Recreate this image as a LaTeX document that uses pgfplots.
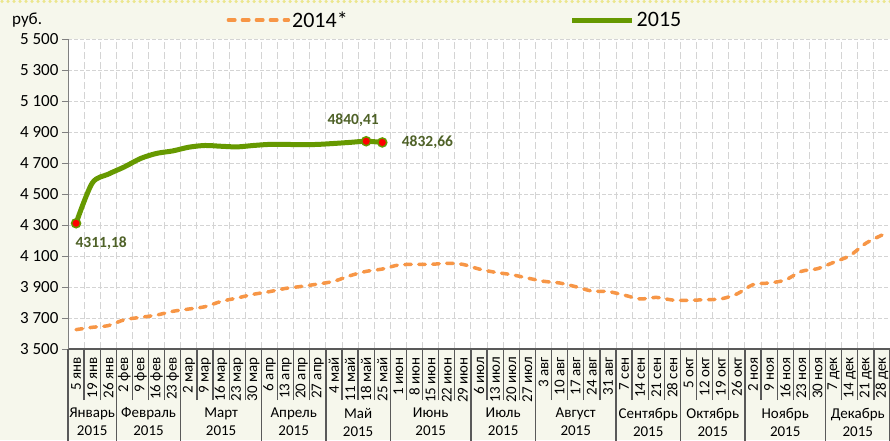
\documentclass[border=0pt]{standalone}
\usepackage{pgfplots}
\pgfplotsset{compat=1.18}
\usepackage{fontspec}
\setmainfont{Carlito}
\definecolor{bgcream}{RGB}{246,247,236}
\definecolor{gr15}{RGB}{102,153,0}
\definecolor{or14}{RGB}{247,150,70}
\definecolor{olivetxt}{RGB}{79,98,40}
\definecolor{gridc}{RGB}{212,212,212}
\definecolor{tickc}{RGB}{89,89,89}
\definecolor{dotc}{RGB}{236,230,140}

\pgfplotstableread{
x y
0 3625
1 3640
2 3651
3 3689
4 3704
5 3719
6 3743
7 3758
8 3773
9 3807
10 3829
11 3853
12 3870
13 3891
14 3904
15 3919
16 3937
17 3973
18 4001
19 4016
20 4042
21 4046
22 4046
23 4053
24 4046
25 4016
26 3995
27 3980
28 3958
29 3937
30 3926
31 3902
32 3874
33 3871
34 3848
35 3823
36 3833
37 3816
38 3814
39 3818
40 3823
41 3855
42 3915
43 3926
44 3945
45 4001
46 4018
47 4059
48 4102
49 4182
50 4235
}\dataA

\pgfplotstableread{
x y
0 4311.18
1 4570
2 4628
3 4675
4 4729
5 4762
6 4778
7 4802
8 4813
9 4808
10 4804
11 4813
12 4820
13 4820
14 4818
15 4820
16 4826
17 4833
18 4840.41
19 4832.66
}\dataB

\tikzset{monthlbl/.style={font=\fontsize{15}{18}\selectfont, align=center, inner sep=0pt, yshift=-73pt}}

\begin{document}
\begin{tikzpicture}
\useasboundingbox (0pt,0pt) rectangle (890pt,440pt);
\fill[bgcream] (0pt,0pt) rectangle (890pt,440pt);
\draw[dotc, line width=3.5pt, line cap=round, dash pattern=on 0pt off 6pt] (2pt,438.5pt) -- (890pt,438.5pt);
\node[anchor=west, font=\fontsize{17}{18}\selectfont, inner sep=0pt] at (12pt,420pt) {руб.};
\begin{axis}[
  at={(68pt,91pt)}, anchor=south west, scale only axis, width=822pt, height=310pt,
  xmin=-0.5, xmax=50.5, ymin=3500, ymax=5500,
  clip=false,
  axis x line*=bottom, axis y line*=left,
  x axis line style={-, draw=tickc, line width=2pt},
  y axis line style={-, draw=gray, line width=1pt},
  axis background/.style={fill=white},
  ytick={3500,3700,...,5500},
  yticklabels={3 500,3 700,3 900,4 100,4 300,4 500,4 700,4 900,5 100,5 300,5 500},
  yticklabel style={font=\fontsize{17}{18}\selectfont},
  xtick={0,...,50},
  xticklabels={5 янв,19 янв,26 янв,2 фев,9 фев,16 фев,23 фев,2 мар,9 мар,16 мар,23 мар,30 мар,6 апр,13 апр,20 апр,27 апр,4 май,11 май,18 май,25 май,1 июн,8 июн,15 июн,22 июн,29 июн,6 июл,13 июл,20 июл,27 июл,3 авг,10 авг,17 авг,24 авг,31 авг,7 сен,14 сен,21 сен,28 сен,5 окт,12 окт,19 окт,26 окт,2 ноя,9 ноя,16 ноя,23 ноя,30 ноя,7 дек,14 дек,21 дек,28 дек},
  xticklabel style={rotate=90, anchor=east, font=\fontsize{15}{16}\selectfont, inner sep=2pt},
  minor xtick={-0.5,0.5,...,50.5},
  ymajorgrids, xminorgrids,
  major grid style={gridc, dash pattern=on 4pt off 2pt, line width=1pt},
  minor grid style={gridc, dash pattern=on 7pt off 3pt, line width=1pt},
  tick align=outside,
  major tick length=6pt,
  minor tick length=51pt,
  major x tick style={draw=none},
  minor x tick style={draw=tickc, line width=1.3pt},
  ytick style={draw=gray, line width=1pt},
  extra x ticks={-0.5,2.5,6.5,11.5,15.5,19.5,24.5,28.5,33.5,37.5,41.5,46.5,50.5},
  extra x tick labels={},
  extra x tick style={grid=none, major tick length=95pt, major x tick style={draw=tickc, line width=1.3pt}},
  legend columns=2,
  legend style={at={(0.4708,1.0613)}, anchor=center, draw=none, fill=none,
    font=\fontsize{22}{24}\selectfont,
    /tikz/every even column/.append style={column sep=220pt}},
  legend image code/.code={\draw[#1] (0pt,0pt) -- (60pt,0pt);},
]
\addplot[or14, line width=3.5pt, line cap=round, dash pattern=on 6.5pt off 7.5pt, smooth] table[x=x,y=y] {\dataA};
\addlegendentry{2014*}
\addplot[gr15, line width=5pt, smooth] table[x=x,y=y] {\dataB};
\addlegendentry{2015}
\addplot[only marks, mark=*, mark size=4.5pt, mark options={fill=red, draw=gr15, line width=1.5pt}, forget plot] coordinates {(0,4311.18) (18,4840.41) (19,4832.66)};

\node[olivetxt, font=\bfseries\fontsize{15.5}{17}\selectfont, anchor=west, xshift=-4pt, yshift=-20pt] at (axis cs:0,4311.18) {4311,18};
\node[olivetxt, font=\bfseries\fontsize{15.5}{17}\selectfont, xshift=-13pt, yshift=21pt] at (axis cs:18,4840.41) {4840,41};
\node[olivetxt, font=\bfseries\fontsize{15.5}{17}\selectfont, anchor=west, xshift=16pt] at (axis cs:19,4832.66) {4832,66};

\node[monthlbl] at (axis cs:1,3500) {Январь\\2015};
\node[monthlbl] at (axis cs:4.5,3500) {Февраль\\2015};
\node[monthlbl] at (axis cs:9,3500) {Март\\2015};
\node[monthlbl] at (axis cs:13.5,3500) {Апрель\\2015};
\node[monthlbl] at (axis cs:17.5,3500) {Май\\2015};
\node[monthlbl] at (axis cs:22,3500) {Июнь\\2015};
\node[monthlbl] at (axis cs:26.5,3500) {Июль\\2015};
\node[monthlbl] at (axis cs:31,3500) {Август\\2015};
\node[monthlbl] at (axis cs:35.5,3500) {Сентябрь\\2015};
\node[monthlbl] at (axis cs:39.5,3500) {Октябрь\\2015};
\node[monthlbl] at (axis cs:44,3500) {Ноябрь\\2015};
\node[monthlbl] at (axis cs:48.5,3500) {Декабрь\\2015};
\end{axis}
\end{tikzpicture}
\end{document}
